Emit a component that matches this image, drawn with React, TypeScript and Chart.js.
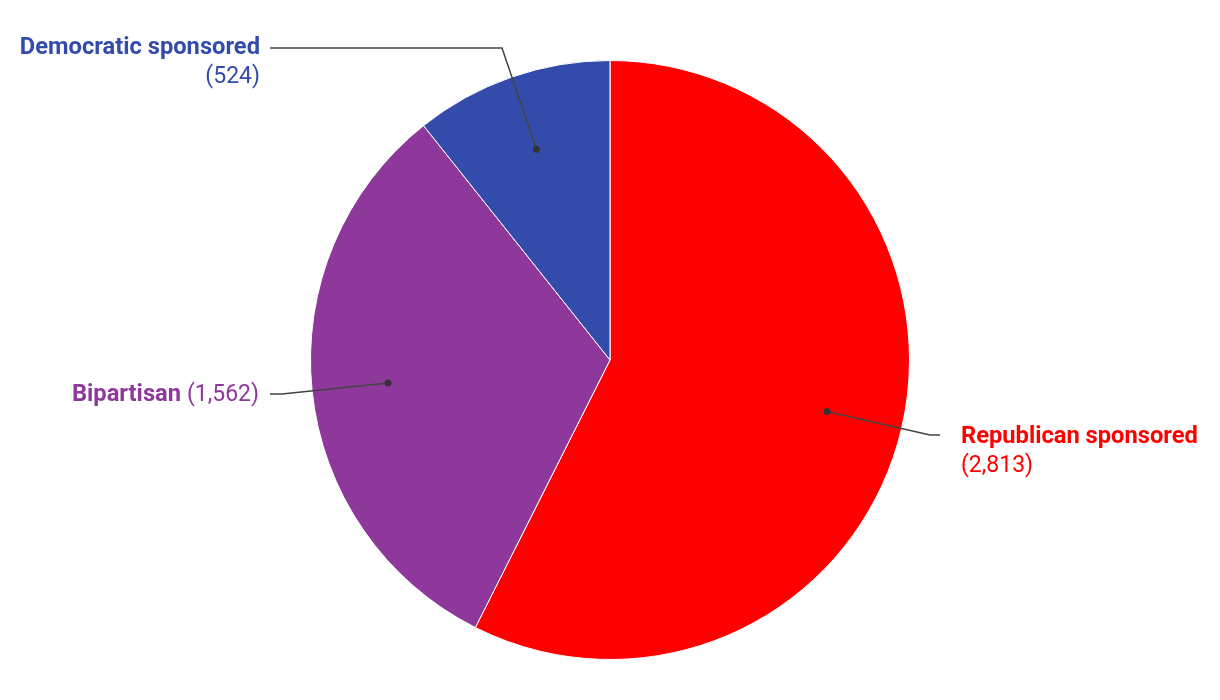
import React, { useEffect, useRef } from "react";
import { Chart, registerables } from "chart.js";

Chart.register(...registerables);

const categories = ["Republican sponsored", "Bipartisan", "Democratic sponsored"];
const values = [2813, 1562, 524];
const colors = ["#ff0000", "#8e389c", "#334cab"];

// label layout: elbow point, text anchor, alignment, single-line or two-line
const labelLayout = [
  { elbow: [930, 435], end: [940, 435], text: [961, 437], align: "left", twoLine: true },
  { elbow: [282, 394], end: [270, 394], text: [259, 395], align: "right", twoLine: false },
  { elbow: [502, 48], end: [270, 48], text: [260, 48], align: "right", twoLine: true },
];

const FONT = "Roboto, 'Noto Sans', sans-serif";
const BOLD_SIZE = 23.7;
const SIZE = 23;

const labelPlugin = {
  id: "leaderLabels",
  afterDraw(chart: any) {
    const ctx = chart.ctx;
    const meta = chart.getDatasetMeta(0);
    meta.data.forEach((arc: any, i: number) => {
      const { x, y, startAngle, endAngle, outerRadius } = arc.getProps(
        ["x", "y", "startAngle", "endAngle", "outerRadius"],
        true
      );
      const mid = (startAngle + endAngle) / 2;
      const r = outerRadius * 0.745;
      const px = x + Math.cos(mid) * r;
      const py = y + Math.sin(mid) * r;
      const L = labelLayout[i];
      ctx.save();
      ctx.strokeStyle = "#444444";
      ctx.lineWidth = 1.5;
      ctx.beginPath();
      ctx.moveTo(px, py);
      ctx.lineTo(L.elbow[0], L.elbow[1]);
      ctx.lineTo(L.end[0], L.end[1]);
      ctx.stroke();
      ctx.fillStyle = "#333333";
      ctx.beginPath();
      ctx.arc(px, py, 3.5, 0, Math.PI * 2);
      ctx.fill();

      const bold = `bold ${BOLD_SIZE}px ${FONT}`;
      const normal = `${SIZE}px ${FONT}`;
      const valText = "(" + values[i].toLocaleString("en-US") + ")";
      ctx.fillStyle = colors[i];
      ctx.textBaseline = "middle";
      if (L.twoLine) {
        ctx.textAlign = L.align as CanvasTextAlign;
        ctx.font = bold;
        ctx.fillText(categories[i], L.text[0], L.text[1]);
        ctx.font = normal;
        ctx.fillText(valText, L.text[0], L.text[1] + 29);
      } else {
        ctx.font = normal;
        const vw = ctx.measureText(valText).width;
        ctx.font = bold;
        const nameText = categories[i] + " ";
        const nw = ctx.measureText(nameText).width;
        const startX = L.align === "right" ? L.text[0] - vw - nw : L.text[0];
        ctx.textAlign = "left";
        ctx.fillText(nameText, startX, L.text[1]);
        ctx.font = normal;
        ctx.fillText(valText, startX + nw, L.text[1]);
      }
      ctx.restore();
    });
  },
};

export default function App() {
  const ref = useRef<HTMLCanvasElement | null>(null);
  useEffect(() => {
    document.body.style.margin = "0";
    const chart = new Chart(ref.current as HTMLCanvasElement, {
      type: "pie",
      data: {
        labels: categories,
        datasets: [
          {
            data: values,
            backgroundColor: colors,
            borderColor: "#ffffff",
            borderWidth: 1,
          },
        ],
      },
      options: {
        responsive: false,
        animation: false,
        layout: { padding: { top: 60, bottom: 40, left: 10, right: 10 } },
        plugins: {
          legend: { display: false },
          tooltip: { enabled: false },
        },
      },
      plugins: [labelPlugin],
    });
    return () => chart.destroy();
  }, []);
  return (
    <div style={{ width: 1220, height: 700, background: "#fff" }}>
      <canvas ref={ref} width={1220} height={700} style={{ display: "block" }} />
    </div>
  );
}
